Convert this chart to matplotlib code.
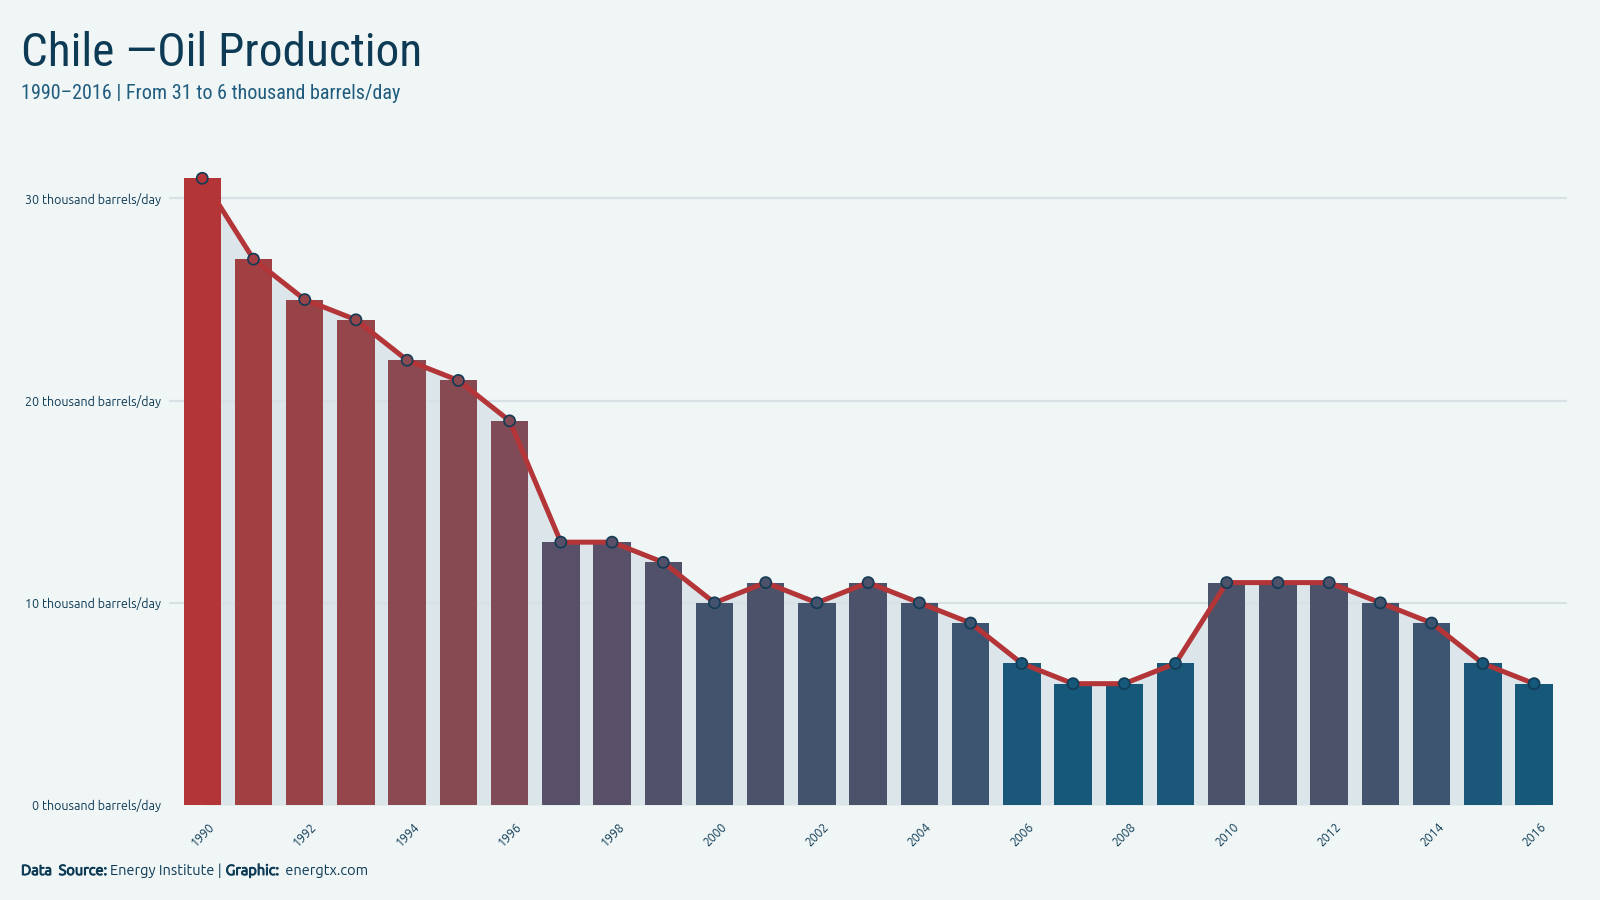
import numpy as np
import matplotlib
matplotlib.use('Agg')
import matplotlib.pyplot as plt
import matplotlib.patheffects as pe
from matplotlib.colors import LinearSegmentedColormap, Normalize
from matplotlib import font_manager
from matplotlib.font_manager import FontProperties

# data
years = list(range(1990, 2017))
production = [31, 27, 25, 24, 22, 21, 19, 13, 13, 12, 10, 11, 10, 11, 10,
              9, 7, 6, 6, 7, 11, 11, 11, 10, 9, 7, 6]
y_ticks = [0, 10, 20, 30]
y_tick_labels = [f'{v} thousand barrels/day' for v in y_ticks]
x_tick_years = years[::2]

title = 'Chile \u2014Oil Production'
subtitle = '1990\u20132016 | From 31 to 6 thousand barrels/day'
footer = [('Data  Source: ', True), ('Energy Institute | ', False),
          ('Graphic: ', True), (' energtx.com', False)]

# styling
BG = '#f0f5f5'
DARK = '#0d3b56'
SUB = '#1f5c7e'
RED = '#b33538'
AREA = '#dce5ea'
GRID = '#d6e0e5'

files = {f.fname.split('/')[-1]: f.fname for f in font_manager.fontManager.ttflist}
names = {f.name for f in font_manager.fontManager.ttflist}


def body(size):
    if 'Ubuntu-R.ttf' in files:
        return FontProperties(fname=files['Ubuntu-R.ttf'], size=size)
    return FontProperties(family='DejaVu Sans', size=size)


def cond(size):
    fam = 'Roboto Condensed' if 'Roboto Condensed' in names else 'DejaVu Sans'
    return FontProperties(family=fam, size=size)


cmap = LinearSegmentedColormap.from_list('oil', [
    (0.00, '#16587a'), (0.04, '#1a5778'), (0.12, '#3d5470'), (0.20, '#4b526a'),
    (0.28, '#575068'), (0.52, '#7f4b57'), (0.64, '#8b4a51'), (0.84, '#a13f42'),
    (1.00, '#b33538')])
norm = Normalize(min(production), max(production))
colors = [cmap(norm(v)) for v in production]

fig = plt.figure(figsize=(16, 9), dpi=100, facecolor=BG)
ax = fig.add_axes([0.1056, 0.1056, 0.874, 0.730])
ax.set_facecolor(BG)

x = np.arange(len(years))
ax.fill_between(x, production, 0, color=AREA, lw=0, zorder=1)
for yv in y_ticks[1:]:
    ax.axhline(yv, color=GRID, lw=1.6, zorder=1.5)
ax.axhline(0, color='#d0dadf', lw=1, ls=(0, (1, 2)), zorder=1.5)
ax.bar(x, production, width=0.73, color=colors, zorder=2)
ax.plot(x, production, color=RED, lw=3.6, zorder=3, solid_joinstyle='round')
ax.scatter(x, production, s=64, c=colors, edgecolors='#123b55', linewidths=1.2, zorder=4)

ax.set_xlim(-0.65, len(years) - 0.35)
ax.set_ylim(0, 32.5)
ax.set_yticks(y_ticks)
ax.set_yticklabels(y_tick_labels, color=DARK, fontproperties=body(9))
ax.set_xticks([years.index(yr) for yr in x_tick_years])
ax.set_xticklabels([str(yr) for yr in x_tick_years], rotation=45, ha='center', color=DARK,
                   fontproperties=body(8.8))
ax.tick_params(axis='both', length=0)
ax.tick_params(axis='y', pad=6)
ax.tick_params(axis='x', pad=11)
for s in ax.spines.values():
    s.set_visible(False)

fig.text(21 / 1600, 1 - 66 / 900, title, color=DARK, va='baseline', fontproperties=cond(34))
fig.text(21 / 1600, 1 - 99 / 900, subtitle, color=SUB, va='baseline', fontproperties=cond(14.5))

fig.canvas.draw()
r = fig.canvas.get_renderer()
fx = 21 / 1600
for txt, bold in footer:
    t = fig.text(fx, 1 - 875 / 900, txt, color=DARK, va='baseline', fontproperties=body(10.5))
    if bold:
        # fake the bold cut, the static bold face is not available
        t.set_path_effects([pe.withStroke(linewidth=0.7, foreground=DARK)])
    bb = t.get_window_extent(renderer=r)
    fx = bb.x1 / 1600

fig.savefig('out.png', dpi=100, facecolor=BG)
